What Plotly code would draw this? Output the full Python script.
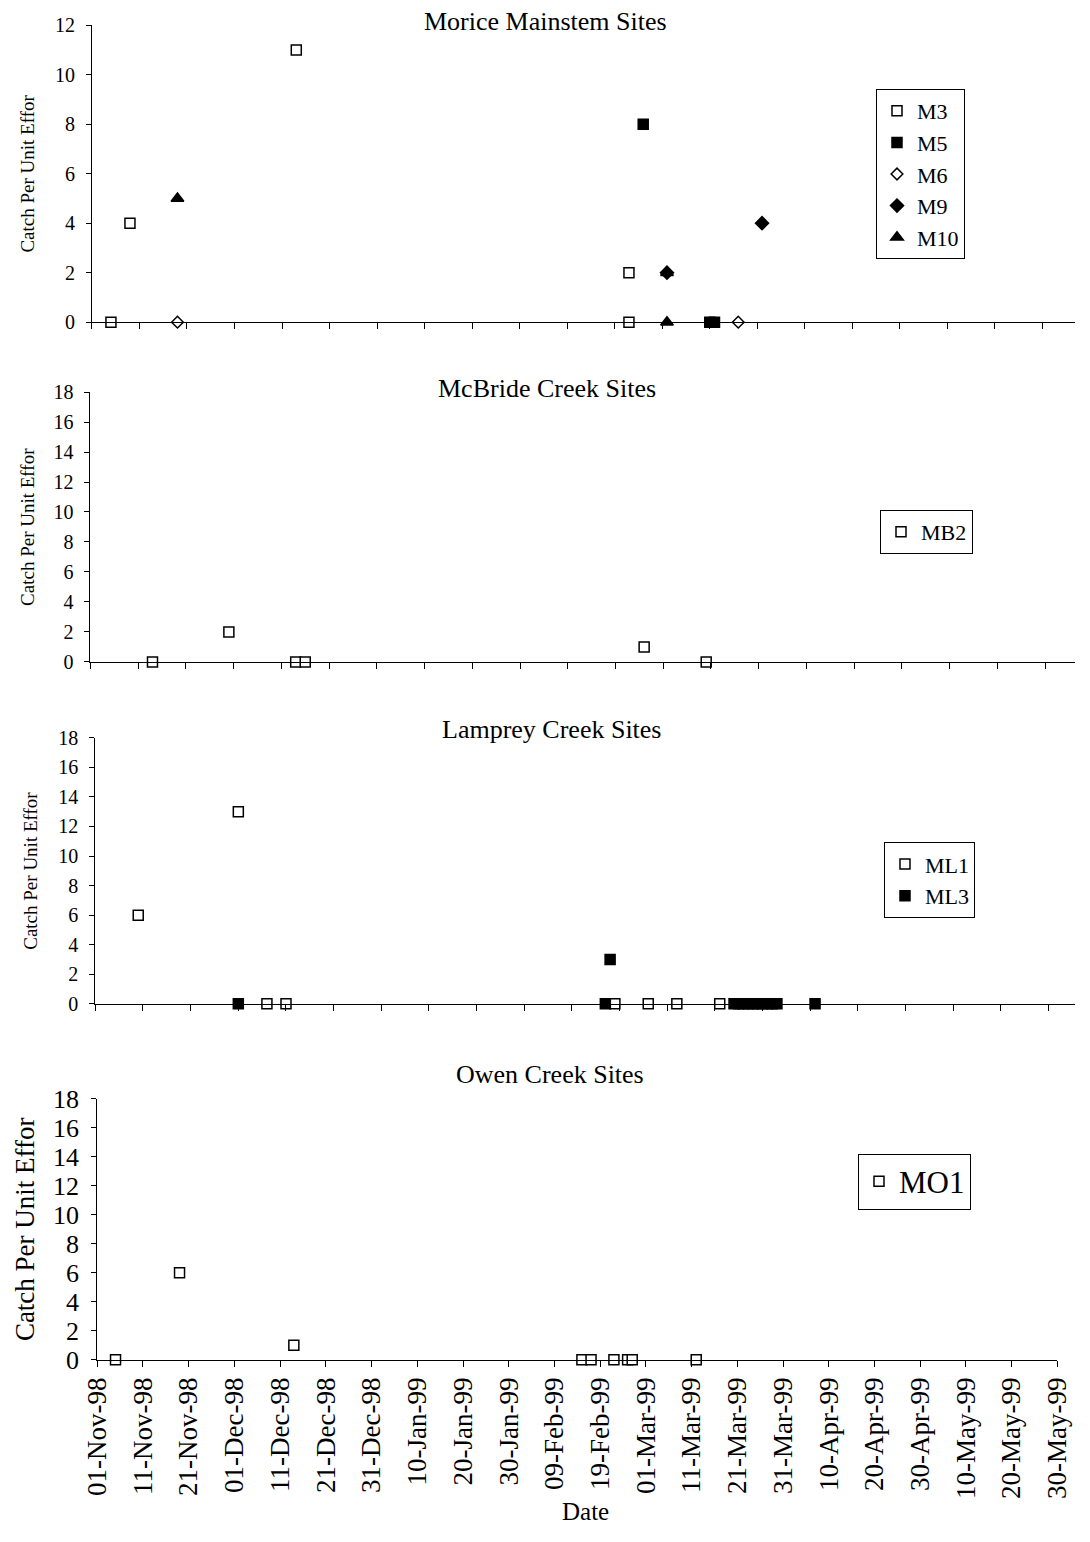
import datetime as dt
import plotly.graph_objects as go

# ---------------- data ----------------
# Morice Mainstem Sites
m3_dates = ["1998-11-05", "1998-11-09", "1998-12-14", "1999-02-22", "1999-02-22"]
m3_cpue = [0, 4, 11, 2, 0]
m5_dates = ["1999-02-25", "1999-03-11", "1999-03-12"]
m5_cpue = [8, 0, 0]
m6_dates = ["1998-11-19", "1999-03-17"]
m6_cpue = [0, 0]
m9_dates = ["1999-03-02", "1999-03-22"]
m9_cpue = [2, 4]
m10_dates = ["1998-11-19", "1999-03-02", "1999-03-02"]
m10_cpue = [5, 2, 0]

# McBride Creek Sites
mb2_dates = ["1998-11-14", "1998-11-30", "1998-12-14", "1998-12-16", "1999-02-25", "1999-03-10"]
mb2_cpue = [0, 2, 0, 0, 1, 0]

# Lamprey Creek Sites
ml1_dates = ["1998-11-10", "1998-12-01", "1998-12-07", "1998-12-11", "1999-02-18",
             "1999-02-25", "1999-03-03", "1999-03-12"]
ml1_cpue = [6, 13, 0, 0, 0, 0, 0, 0]
ml3_dates = ["1998-12-01", "1999-02-16", "1999-02-17", "1999-03-15", "1999-03-16",
             "1999-03-17", "1999-03-18", "1999-03-19", "1999-03-20", "1999-03-21",
             "1999-03-22", "1999-03-23", "1999-03-24", "1999-04-01"]
ml3_cpue = [0, 0, 3, 0, 0, 0, 0, 0, 0, 0, 0, 0, 0, 0]

# Owen Creek Sites
mo1_dates = ["1998-11-05", "1998-11-19", "1998-12-14", "1999-02-15", "1999-02-17",
             "1999-02-22", "1999-02-25", "1999-02-26", "1999-03-12"]
mo1_cpue = [0, 6, 1, 0, 0, 0, 0, 0, 0]

panel_titles = ["Morice Mainstem Sites", "McBride Creek Sites", "Lamprey Creek Sites", "Owen Creek Sites"]
y_title = "Catch Per Unit Effor"
x_title = "Date"

# ---------------- layout helpers ----------------
W, H = 1090, 1542
FONT = "Liberation Serif, Times New Roman, serif"

# the captured page shows the figure slightly inset; map target positions into figure pixels
SX, BX = 0.9724, 15.07
SY, BY = 0.9835, 12.8


def fx(sx):
    return (sx - BX) / SX


def fy(sy):
    return (sy - BY) / SY


def px(sx):
    return min(max(fx(sx) / W, 0.0), 1.0)


def py(sy):
    return min(max(1 - fy(sy) / H, 0.0), 1.0)


start = dt.datetime(1998, 11, 1)
MAX_SX = (W - 0.5) * SX + BX  # right-most visible position


def day(d):
    t = start + dt.timedelta(minutes=round(d * 1440))
    return t.strftime("%Y-%m-%d %H:%M")


# target geometry: day-0 x, px per day, right end, y of 0, y of max
panels = [
    dict(x0=92, k=4.752, xr=1090, yb=321.7, yt=24, ymax=12, tfs=20, title=(545.5, 20.5),
         ytx=28, legend=(876, 88), lfs=22, tsz=26, ysz=19),
    dict(x0=90.5, k=4.773, xr=1090, yb=662.3, yt=391.7, ymax=18, tfs=20, title=(547, 388),
         ytx=28, legend=(880, 510), lfs=22, tsz=26, ysz=19),
    dict(x0=95.4, k=4.766, xr=1090, yb=1005, yt=738.3, ymax=18, tfs=20, title=(552, 729.5),
         ytx=31, legend=(884, 843), lfs=22, tsz=26, ysz=19),
    dict(x0=97.3, k=4.572, xr=1057.4, yb=1361.7, yt=1100, ymax=18, tfs=26, title=(550.5, 1075.5),
         ytx=25, legend=(858, 1155), lfs=31, tsz=26, ysz=27),
]

fig = go.Figure()


def add(dates, vals, name, panel, symbol, fill, size):
    sfx = "" if panel == 1 else str(panel)
    fig.add_trace(go.Scatter(
        x=dates, y=vals, name=name, mode="markers",
        xaxis="x" + sfx, yaxis="y" + sfx, legend="legend" + sfx,
        cliponaxis=False,
        marker=dict(symbol=symbol, size=size, color=fill,
                    line=dict(color="black", width=1.5)),
    ))


add(m3_dates, m3_cpue, "M3", 1, "square", "white", 10)
add(m5_dates, m5_cpue, "M5", 1, "square", "black", 10)
add(m6_dates, m6_cpue, "M6", 1, "diamond", "white", 9)
add(m9_dates, m9_cpue, "M9", 1, "diamond", "black", 10)
add(m10_dates, m10_cpue, "M10", 1, "triangle-up", "black", 11)
add(mb2_dates, mb2_cpue, "MB2", 2, "square", "white", 10)
add(ml1_dates, ml1_cpue, "ML1", 3, "square", "white", 10)
add(ml3_dates, ml3_cpue, "ML3", 3, "square", "black", 10)
add(mo1_dates, mo1_cpue, "MO1", 4, "square", "white", 10)

layout = dict(
    width=W, height=H,
    margin=dict(l=0, r=0, t=0, b=0),
    paper_bgcolor="white", plot_bgcolor="white",
    font=dict(family=FONT, color="black"),
    showlegend=True,
    annotations=[],
)

for i, p in enumerate(panels, start=1):
    sfx = "" if i == 1 else str(i)
    last = (i == 4)
    xr = min(p["xr"], MAX_SX)
    end_day = (xr - p["x0"]) / p["k"]
    layout["xaxis" + sfx] = dict(
        type="date",
        domain=[px(p["x0"]), px(xr)],
        range=[day(0), day(end_day)],
        anchor="y" + sfx,
        tick0="1998-11-01", dtick=10 * 86400000,
        tickformat="%d-%b-%y",
        showticklabels=last,
        ticklabeloverflow="allow",
        tickangle=-90,
        tickfont=dict(family=FONT, size=27, color="black"),
        ticks="outside", ticklen=6, tickcolor="black", tickwidth=1,
        showline=True, linecolor="black", linewidth=1,
        showgrid=False, zeroline=False, fixedrange=True,
    )
    layout["yaxis" + sfx] = dict(
        domain=[py(p["yb"]), py(p["yt"])],
        range=[0, p["ymax"]],
        anchor="x" + sfx,
        tick0=0, dtick=2,
        tickfont=dict(family=FONT, size=p["tfs"], color="black"),
        ticks="outside", ticklen=5, tickcolor="black", tickwidth=1,
        ticklabelstandoff=7,
        showline=True, linecolor="black", linewidth=1,
        showgrid=False, zeroline=False, fixedrange=True,
    )
    lx, ly = p["legend"]
    layout["legend" + sfx] = dict(
        x=px(lx), y=py(ly), xanchor="left", yanchor="top",
        xref="paper", yref="paper",
        bgcolor="white", bordercolor="black", borderwidth=1,
        font=dict(family=FONT, size=p["lfs"], color="black"),
        itemwidth=30,
    )
    tx, ty = p["title"]
    layout["annotations"].append(dict(
        text=panel_titles[i - 1], xref="paper", yref="paper",
        x=px(tx), y=py(ty), xanchor="center", yanchor="middle",
        showarrow=False, font=dict(family=FONT, size=p["tsz"], color="black"),
    ))
    layout["annotations"].append(dict(
        text=y_title, xref="paper", yref="paper", textangle=-90,
        x=px(p["ytx"]), y=py((p["yb"] + p["yt"]) / 2), xanchor="center", yanchor="middle",
        showarrow=False, font=dict(family=FONT, size=p["ysz"], color="black"),
    ))

layout["annotations"].append(dict(
    text=x_title, xref="paper", yref="paper",
    x=px(586), y=0.0, xanchor="center", yanchor="bottom",
    showarrow=False, font=dict(family=FONT, size=25, color="black"),
))

fig.update_layout(**layout)
fig.write_html(
    "out.html",
    post_script="document.body.style.margin='0';document.body.style.padding='0';",
)
